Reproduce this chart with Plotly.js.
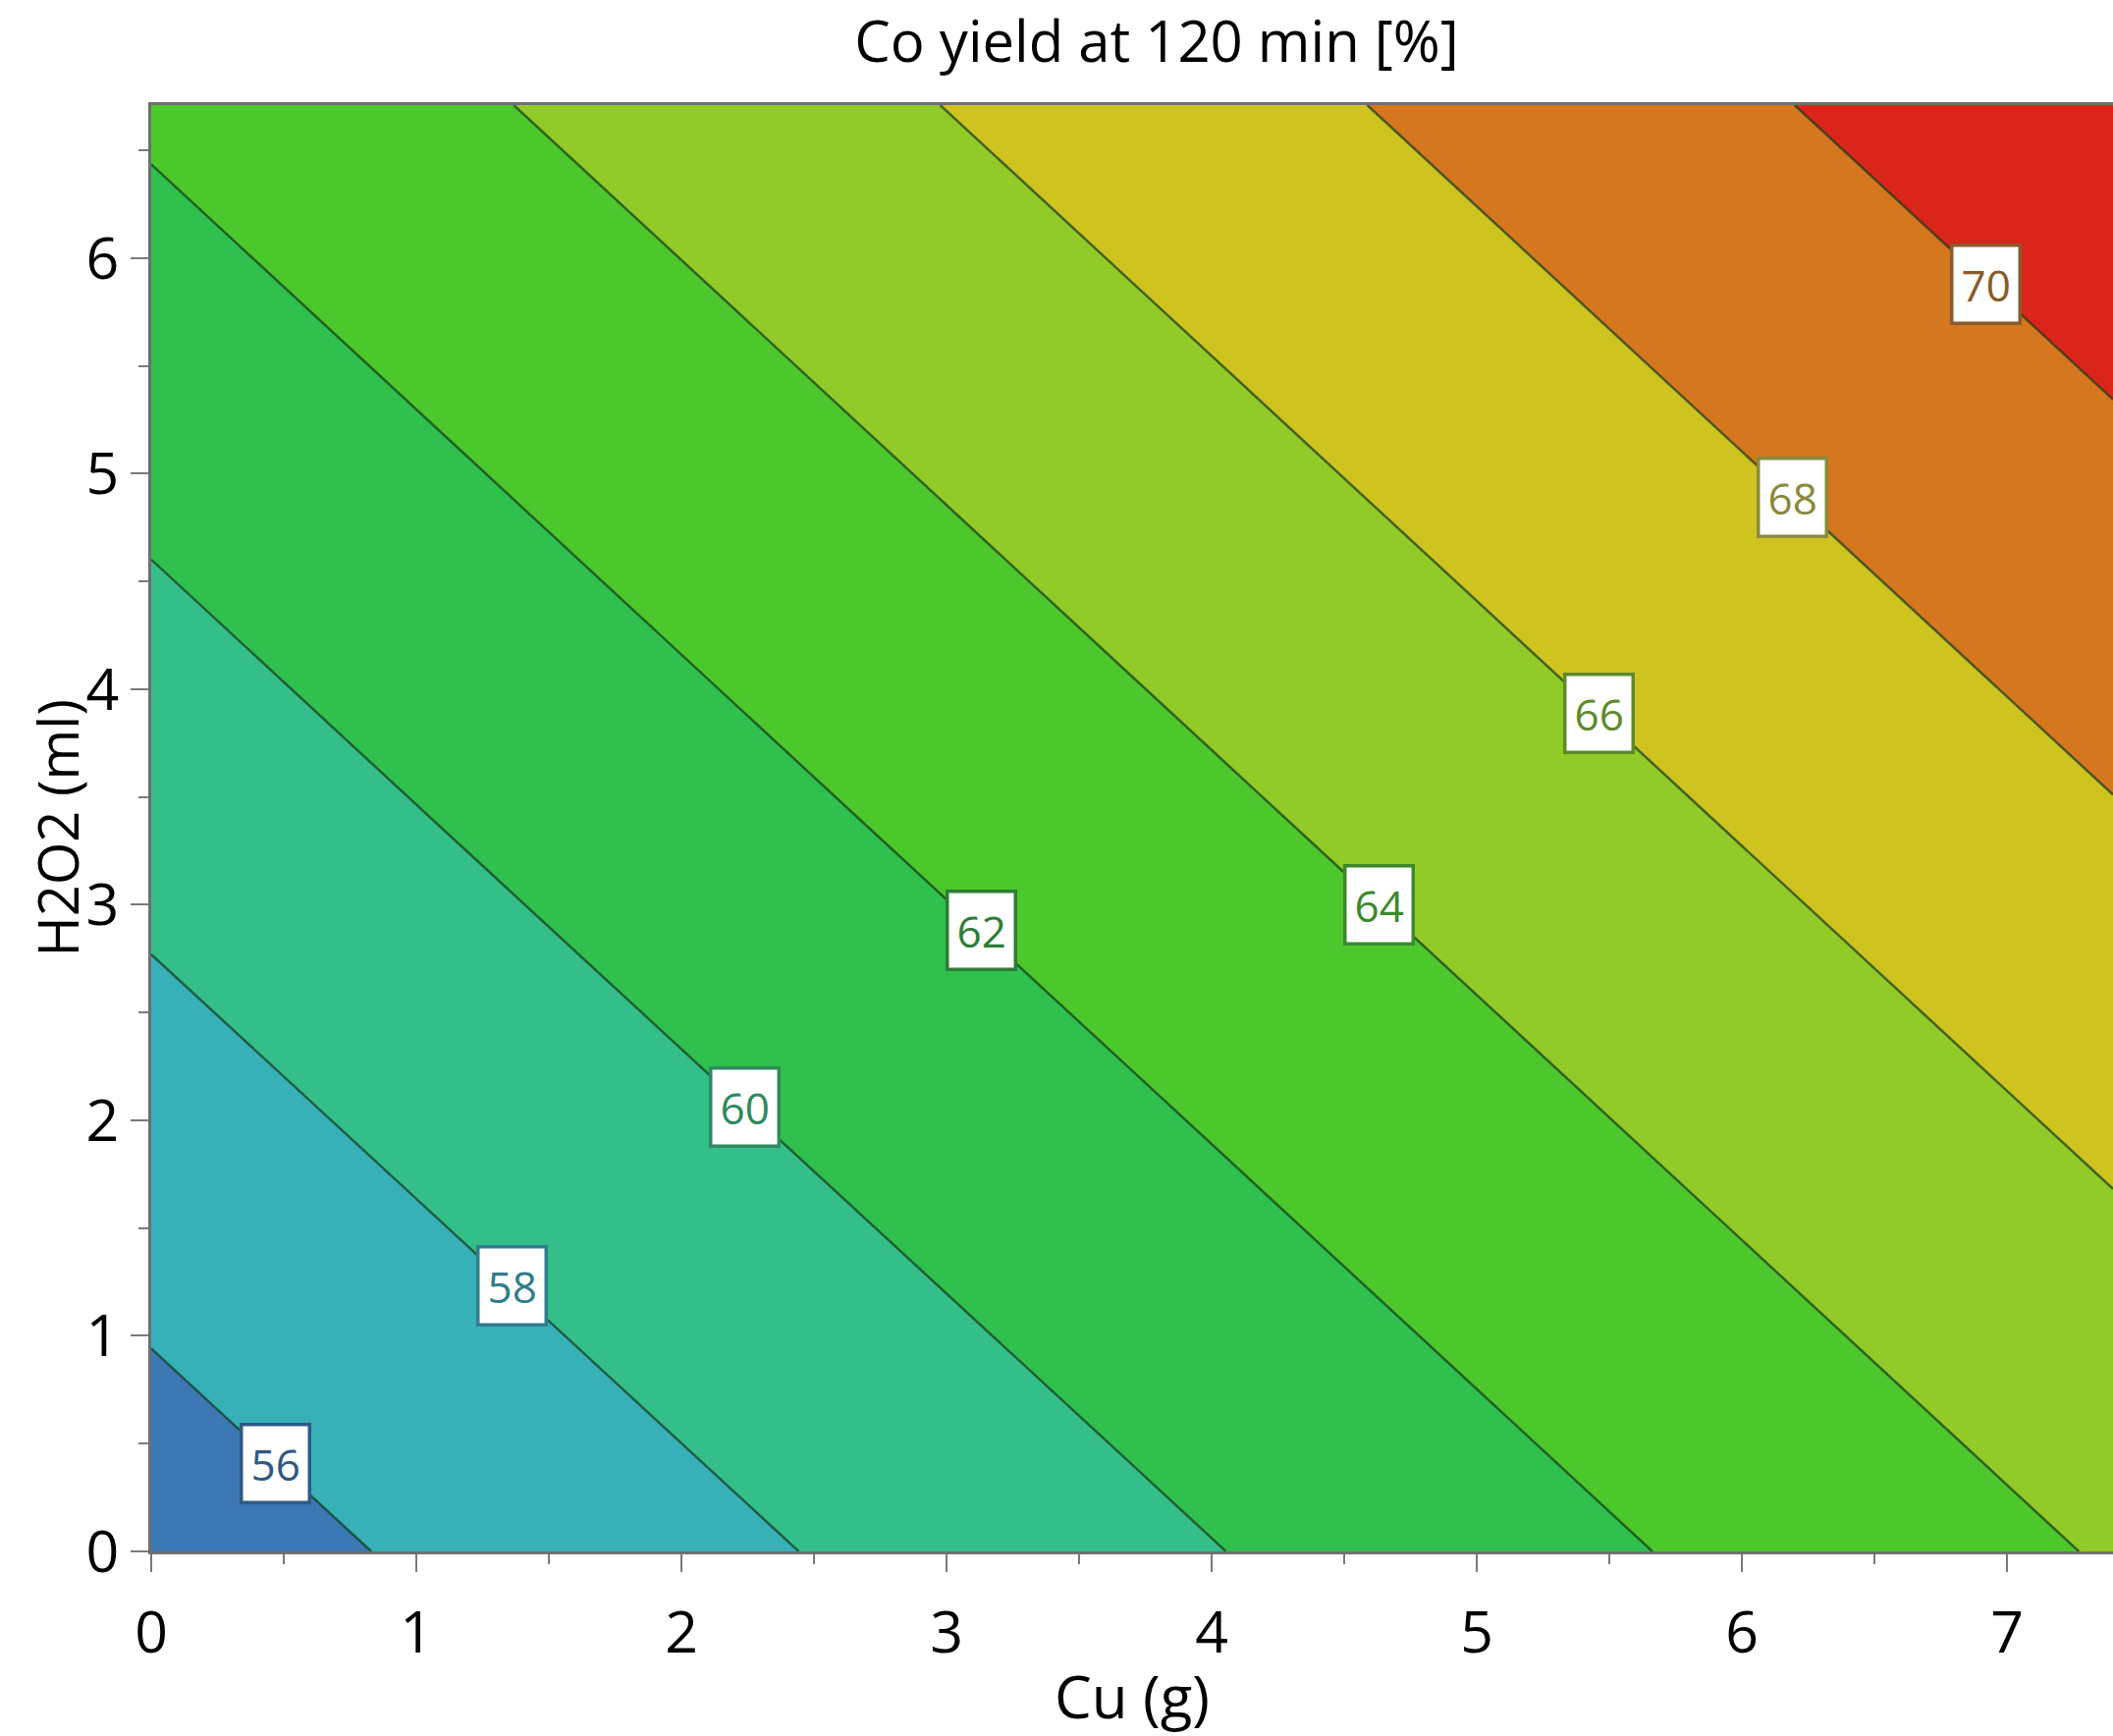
<!DOCTYPE html>
<html>
<head>
<meta charset="utf-8">
<script src="https://cdn.plot.ly/plotly-3.0.1.min.js"></script>
<style>
  html, body { margin: 0; padding: 0; background: #ffffff; }
  #chart { width: 2152px; height: 1768px; }
</style>
</head>
<body>
<div id="chart"></div>
<script>
// Grid of Cu (g) and H2O2 (ml) values and the yield
const cuValues = [0, 3.7, 7.4];
const h2o2Values = [0, 3.355, 6.71];
// Co yield at 120 min [%], rows = H2O2, columns = Cu
const yieldRow0 = [54.97, 59.56, 64.16];
const yieldRow1 = [58.64, 63.23, 67.83];
const yieldRow2 = [62.30, 66.90, 71.49];

// Contour levels and band colours (lowest band first)
const levelStart = 56;
const levelEnd = 70;
const levelStep = 2;
const bandColors = ['#3B78B4', '#37B0B8', '#34BF8A', '#2FC04E', '#4CC72C', '#92CA27', '#CFC320', '#D4771E', '#DA251A'];

// Contour label boxes
const labelLevels = [56, 58, 60, 62, 64, 66, 68, 70];
const labelCu = [0.47, 1.36, 2.24, 3.13, 4.63, 5.46, 6.19, 6.92];
const labelH2O2 = [0.41, 1.23, 2.06, 2.88, 3.00, 3.89, 4.89, 5.88];
const labelColors = ['#2D5A84', '#2F7D8C', '#2E8A5E', '#2E7D36', '#3A8A2A', '#5E8A2A', '#8A8A3A', '#8A5A2A'];

const xTickVals = [0, 1, 2, 3, 4, 5, 6, 7];
const yTickVals = [0, 1, 2, 3, 4, 5, 6];

// stepped colour scale: band i centred at i/(n-1)
const n = bandColors.length;
const colorscale = [];
for (let i = 0; i < n; i++) {
  const lo = i === 0 ? 0 : (i - 0.5) / (n - 1);
  const hi = i === n - 1 ? 1 : (i + 0.5) / (n - 1);
  colorscale.push([lo, bandColors[i]]);
  colorscale.push([hi, bandColors[i]]);
}

const FONT = '"Open Sans", "Noto Sans", sans-serif';

const trace = {
  type: 'contour',
  x: cuValues,
  y: h2o2Values,
  z: [yieldRow0, yieldRow1, yieldRow2],
  autocontour: false,
  contours: { start: levelStart, end: levelEnd, size: levelStep, coloring: 'fill', showlabels: false },
  colorscale: colorscale,
  showscale: false,
  line: { color: 'rgba(20,55,25,0.7)', width: 2.5, smoothing: 0 },
  hoverinfo: 'x+y+z'
};

const annotations = labelLevels.map((lv, i) => ({
  x: labelCu[i], y: labelH2O2[i], xref: 'x', yref: 'y',
  text: String(lv), showarrow: false,
  bgcolor: '#ffffff', bordercolor: labelColors[i], borderwidth: 3.5, borderpad: 8,
  font: { family: FONT, size: 44, color: labelColors[i] }
}));

// y-axis title, placed as a rotated text label just left of the tick labels
annotations.push({
  x: (57 - 154) / 1998, y: 0.5, xref: 'paper', yref: 'paper',
  xanchor: 'center', yanchor: 'middle', textangle: -90,
  text: 'H2O2 (ml)', showarrow: false,
  font: { family: FONT, size: 56, color: '#000000' }
});

const axisCommon = {
  showgrid: false, zeroline: false,
  showline: true, linecolor: '#6f6f6f', linewidth: 3,
  ticks: 'outside', ticklen: 18, tickwidth: 2, tickcolor: '#7a7a7a',
  tickfont: { family: FONT, size: 59, color: '#000000' },
  minor: { dtick: 0.5, ticks: 'outside', ticklen: 10, tickwidth: 2, tickcolor: '#7a7a7a', showgrid: false }
};

const layout = {
  width: 2152, height: 1768,
  margin: { l: 154, r: 0, t: 107, b: 188, pad: 0 },
  paper_bgcolor: '#ffffff', plot_bgcolor: '#ffffff',
  font: { family: FONT, color: '#000000' },
  title: {
    text: 'Co yield at 120 min [%]',
    font: { family: FONT, size: 58, color: '#000000' },
    x: 1178 / 2152, xanchor: 'center', xref: 'container',
    y: 1 - 43 / 1768, yanchor: 'middle', yref: 'container'
  },
  xaxis: Object.assign({}, axisCommon, {
    range: [0, 7.4], tickvals: xTickVals, mirror: true,
    ticklabelstandoff: 11,
    title: { text: 'Cu (g)', font: { family: FONT, size: 60, color: '#000000' }, standoff: 14 }
  }),
  yaxis: Object.assign({}, axisCommon, {
    range: [0, 6.71], tickvals: yTickVals,
    ticklabelstandoff: 0
  }),
  annotations: annotations,
  showlegend: false
};

Plotly.newPlot('chart', [trace], layout, { displayModeBar: false, responsive: false });
</script>
</body>
</html>
